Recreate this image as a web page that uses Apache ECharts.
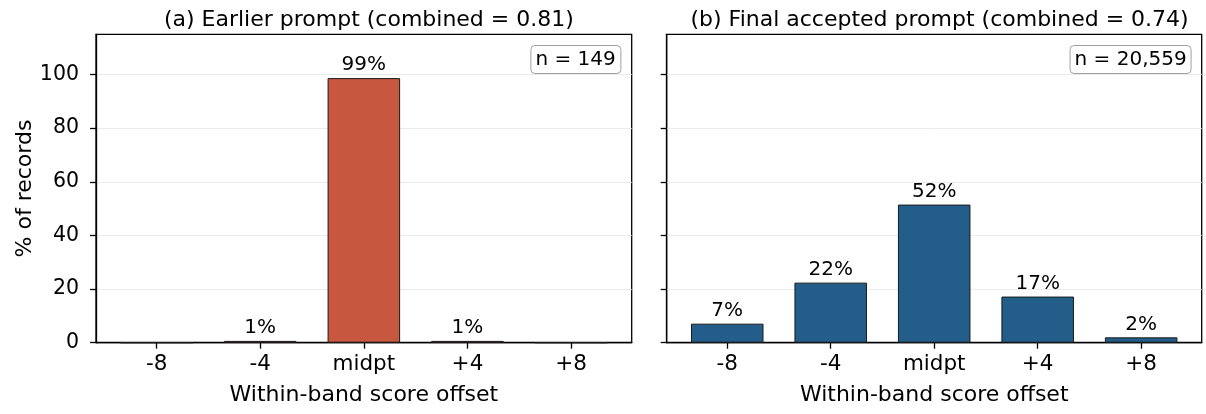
<!DOCTYPE html>
<html><head><meta charset="utf-8">
<script src="https://cdn.jsdelivr.net/npm/echarts@6/dist/echarts.min.js"></script>
<style>html,body{margin:0;padding:0;background:#fff}#c{width:1206px;height:414px}</style>
</head><body><div id="c"></div>
<script>
const categories = ['-8', '-4', 'midpt', '+4', '+8'];
const earlierValues = [0, 0.67, 98.66, 0.67, 0];
const finalValues = [7.1, 22.4, 51.5, 17.2, 2.0];
const yTicks = [0, 20, 40, 60, 80, 100];
const panelTitles = ['(a) Earlier prompt (combined = 0.81)', '(b) Final accepted prompt (combined = 0.74)'];
const nLabels = ['n = 149', 'n = 20,559'];
const xLabel = 'Within-band score offset';
const yLabel = '% of records';

const FONT = 'DejaVu Sans';
const chart = echarts.init(document.getElementById('c'), null, {renderer: 'canvas'});
const grids = [
  {left: 96, right: 574.3, top: 34.3, bottom: 71.3},
  {left: 666.7, right: 4.3, top: 34.3, bottom: 71.3}
];
const plotW = 1206 - 96 - 574.3;
const pad = 0.585;
const barW = 0.7 * plotW / (4 + 2 * pad);
const idx = [0, 1, 2, 3, 4];

function xAxis(i) {
  return {
    type: 'value', gridIndex: i, min: -pad, max: 4 + pad,
    name: xLabel, nameLocation: 'middle', nameGap: 42,
    nameTextStyle: {fontFamily: FONT, fontSize: 22, color: '#000'},
    axisLine: {show: true, onZero: false, lineStyle: {color: '#000', width: 1.3}},
    axisTick: {show: true, customValues: idx, length: 6, lineStyle: {color: '#000', width: 1.3}},
    axisLabel: {customValues: idx, formatter: v => categories[Math.round(v)], fontFamily: FONT, fontSize: 21.5, color: '#000', margin: 11},
    splitLine: {show: false}
  };
}
function yAxis(i) {
  return {
    type: 'value', gridIndex: i, min: 0, max: 115,
    name: i === 0 ? yLabel : '', nameLocation: 'middle', nameGap: 60, nameRotate: 90,
    nameTextStyle: {fontFamily: FONT, fontSize: 22, color: '#000'},
    axisLine: {show: true, onZero: false, lineStyle: {color: '#000', width: 1.3}},
    axisTick: {show: true, customValues: yTicks, length: 6, lineStyle: {color: '#000', width: 1.3}},
    axisLabel: {show: i === 0, customValues: yTicks, fontFamily: FONT, fontSize: 20.5, color: '#000', margin: 17},
    splitLine: {show: true, lineStyle: {color: '#ebebeb', width: 1}}
  };
}
function series(i, vals, color) {
  return {
    type: 'bar', xAxisIndex: i, yAxisIndex: i, barWidth: barW,
    data: vals.map((v, k) => [k, v]),
    itemStyle: {color: color, borderColor: '#1a1a1a', borderWidth: 1},
    label: {show: true, position: 'top', distance: 3, fontFamily: FONT, fontSize: 20, color: '#000',
      formatter: p => p.value[1] > 0 ? Math.round(p.value[1]) + '%' : ''},
    silent: true, animation: false
  };
}
const centers = [96 + plotW / 2, 666.7 + plotW / 2];
const boxStyle = {padding: [4, 5], borderColor: '#a0a0a0', borderWidth: 1, borderRadius: 4, backgroundColor: '#fff'};
chart.setOption({
  animation: false,
  grid: grids.map(g => Object.assign({show: true, borderColor: '#000', borderWidth: 1.3, backgroundColor: 'transparent'}, g)),
  title: [
    {text: panelTitles[0], left: centers[0], top: 4, textAlign: 'center', textStyle: {fontFamily: FONT, fontSize: 22, fontWeight: 'normal', color: '#000'}},
    {text: panelTitles[1], left: centers[1], top: 4, textAlign: 'center', textStyle: {fontFamily: FONT, fontSize: 22, fontWeight: 'normal', color: '#000'}},
    Object.assign({text: nLabels[0], right: 1206 - 620.7, top: 45,
      textStyle: {fontFamily: FONT, fontSize: 20, fontWeight: 'normal', color: '#000', lineHeight: 21}}, boxStyle),
    Object.assign({text: nLabels[1], right: 1206 - 1191.7, top: 45,
      textStyle: {fontFamily: FONT, fontSize: 20, fontWeight: 'normal', color: '#000', lineHeight: 21}}, boxStyle)
  ],
  xAxis: [xAxis(0), xAxis(1)],
  yAxis: [yAxis(0), yAxis(1)],
  series: [series(0, earlierValues, '#c8573f'), series(1, finalValues, '#235e8a')]
});
</script></body></html>
